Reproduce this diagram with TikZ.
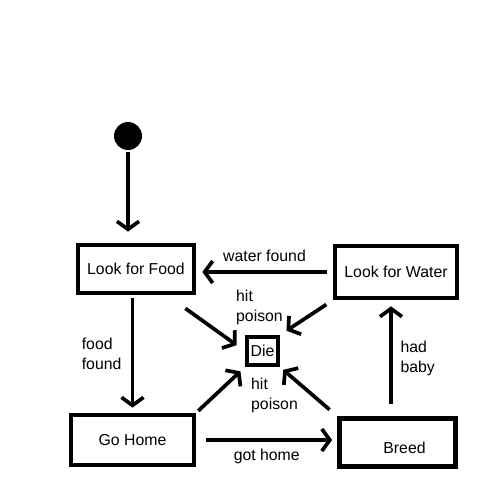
\documentclass[tikz,border=0pt]{standalone}
\usepackage{fontspec}
\setmainfont{Liberation Sans}
\usetikzlibrary{
	arrows.meta,
	positioning,
}
\tikzset{state/.style={
		% The shape:
		rectangle,
		% The size:
		minimum width=23.2mm,minimum height=9.6mm,
		% The border:
		line width=2.7pt,draw=black,
		% make sure text aligns properly
		text height=1.5ex,text depth=.25ex,
}}
\tikzset{diestate/.style={
		% The shape:
		rectangle,
		% The size:
		minimum width=6.2mm,minimum height=5.6mm,inner sep=0pt,
		% The border:
		line width=2.5pt,draw=black,
}}
\tikzset{startdot/.style={
		% a plain black dot
		circle,fill=black,minimum size=5.6mm,inner sep=0pt,
}}
\tikzset{lbl/.style={
		% two-line labels, left aligned
		align=left,inner sep=1pt,
}}

\begin{document}
\begin{tikzpicture}[x=0.2mm,y=-0.2mm,>={Straight Barb[length=1.6mm,width=4.4mm]},
	line width=2.1pt,font=\fontsize{9}{11.4}\selectfont]
	\useasboundingbox (0,0) rectangle (500,500);
	% states
	\node[startdot] (start) at (128,136) {};
	\node[state] (food) at (136,269) {Look for Food};
	\node[state,minimum width=24.4mm,minimum height=10.4mm] (water) at (396,272) {Look for Water};
	\node[state,minimum width=24.6mm,minimum height=10mm] (home) at (132.5,440) {Go Home};
	\node[state,text height=1.5ex+2mm] (breed) at (397.5,442.5) {\hspace{2.8mm}Breed};
	\node[diestate] (die) at (262.5,351) {Die};
	% transitions
	\draw[->,shorten >=2.2mm] (start.south) -- (start.south |- food.north);
	\draw[->,shorten <=0.6mm,shorten >=1mm] (home.north |- food.south) -- (home.north)
		node[lbl,midway,left=1.5mm] {food\\found};
	\draw[->,shorten <=1.2mm,shorten >=1.2mm] (water.west) -- (water.west -| food.east)
		node[midway,above=0.5mm] {water found};
	\draw[->,shorten <=2.4mm,shorten >=1.2mm] ([xshift=-1mm]water.south |- breed.north) -- ([xshift=-1mm]water.south)
		node[lbl,midway,right=1.2mm] {had\\baby};
	\draw[->,shorten <=2mm,shorten >=1mm] (home.east) -- (home.east -| breed.west)
		node[midway,below=0.3mm] {got home};
	\draw[->,shorten >=2mm] ([xshift=-2.2mm,yshift=-2.6mm]food.south east) -- (die.west);
	\draw[->,shorten <=1.5mm,shorten >=1.5mm] (water.south west) -- (die.north east);
	\draw[->,shorten <=0.5mm,shorten >=1.2mm] (home.north east) -- (die.south west);
	\draw[->,shorten <=2mm,shorten >=0.8mm] (breed.north west) -- (die.south east);
	\node[lbl,above=1.2mm of die,xshift=-0.6mm] (poisontop) {hit\\poison};
	\node[lbl,below=1.4mm of die,xshift=2.4mm] (poisonbot) {hit\\poison};
\end{tikzpicture}
\end{document}
